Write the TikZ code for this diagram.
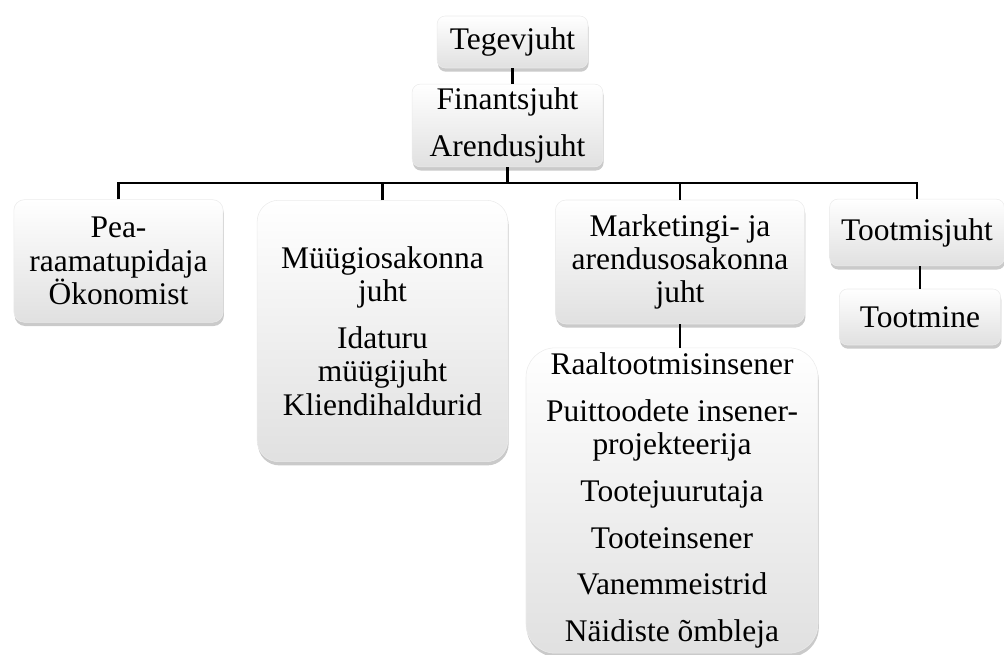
\documentclass[tikz,border=0pt]{standalone}
\usepackage{fontspec}
\setmainfont{Liberation Serif}
\usetikzlibrary{shadows}

\begin{document}
\begin{tikzpicture}[x=0.75pt, y=-0.75pt,
    orgbox/.style={rounded corners=#1, align=center, inner sep=0pt,
      top color=white, bottom color=black!12, draw=black!8, line width=0.4pt,
      drop shadow={shadow xshift=0.6pt, shadow yshift=-2.8pt, opacity=0.42},
      font=\fontsize{23.6}{25}\selectfont},
    orgbox/.default=6pt,
    link/.style={line width=1.7pt, black}]
  \useasboundingbox (0,0) rectangle (1004,655);

  % boxes
  \node[orgbox, minimum width=113pt, minimum height=39pt] (teg) at (512.5,42) {Tegevjuht};
  \node[orgbox, minimum width=143pt, minimum height=62pt] (fin) at (507.5,125.5) {Finantsjuht\\[10pt]Arendusjuht};
  \node[orgbox=8pt, minimum width=157pt, minimum height=92pt] (pea) at (118.5,261) {Pea-\\raamatupidaja\\Ökonomist};
  \node[orgbox=16pt, minimum width=188pt, minimum height=196pt] (mue) at (382.5,331) {Müügiosakonna\\juht\\[10pt]Idaturu\\müügijuht\\Kliendihaldurid};
  \node[orgbox=8pt, minimum width=187pt, minimum height=93pt] (mar) at (680,262) {Marketingi- ja\\arendusosakonna\\juht};
  \node[orgbox, minimum width=131pt, minimum height=50pt] (too) at (917,232.5) {Tootmisjuht};
  \node[orgbox, minimum width=121pt, minimum height=42pt] (tmi) at (920,317) {Tootmine};
  \node[orgbox=22pt, minimum width=219pt, minimum height=229pt] (big) at (672,500.5) {Raaltootmisinsener\\[10pt]Puittoodete insener-\\projekteerija\\[10pt]Tootejuurutaja\\[10pt]Tooteinsener\\[10pt]Vanemmeistrid\\[10pt]Näidiste õmbleja};

  % connectors
  \coordinate (bus) at (0,183);
  \draw[link] (teg.south) -- (teg.south |- fin.north);
  \draw[link] (fin.south) -- (fin.south |- bus);
  \draw[link] (pea.north) -- (pea.north |- bus) -| (too.north);
  \draw[link] (mue.north) -- (mue.north |- bus);
  \draw[link] (mar.north) -- (mar.north |- bus);
  \draw[link] (mar.south) -- (mar.south |- big.north);
  \draw[link] (tmi.north) -- (tmi.north |- too.south);
\end{tikzpicture}
\end{document}
